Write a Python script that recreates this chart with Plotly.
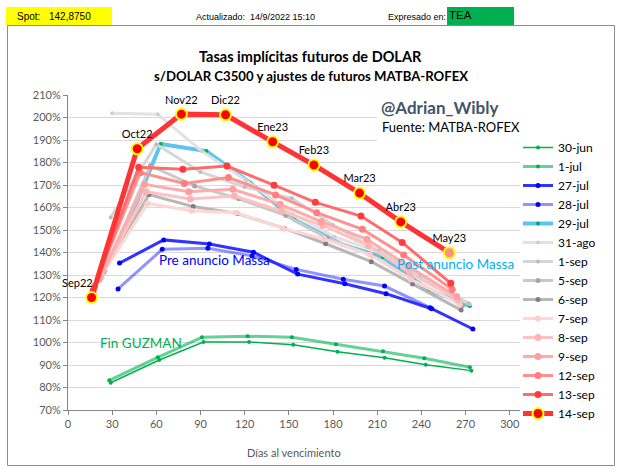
import plotly.graph_objects as go

# ---------------- data ----------------
series_names = ["30-jun", "1-jul", "27-jul", "28-jul", "29-jul", "31-ago", "1-sep", "5-sep",
                "6-sep", "7-sep", "8-sep", "9-sep", "12-sep", "13-sep", "14-sep"]

days_30jun = [29, 62, 92, 123, 153, 183, 215, 243, 274]
vals_30jun = [82.1, 92.2, 100.2, 100.2, 99.0, 95.9, 93.2, 90.1, 87.5]
days_1jul = [28, 61, 91, 122, 152, 182, 214, 242, 273]
vals_1jul = [83.2, 93.4, 102.3, 102.8, 102.3, 99.2, 96.1, 93.0, 89.0]
days_27jul = [35, 65, 96, 126, 156, 188, 216, 247, 275]
vals_27jul = [135.3, 145.6, 143.8, 140.1, 130.4, 126.1, 121.7, 115.0, 106.0]
days_28jul = [34, 64, 95, 125, 155, 187, 215, 246]
vals_28jul = [123.8, 141.4, 141.9, 138.5, 132.5, 128.1, 125.1, 115.5]
days_29jul = [33, 63, 94, 124, 154, 186, 214, 245, 273]
vals_29jul = [141.0, 188.2, 185.1, 170.8, 154.4, 143.6, 137.9, 123.3, 116.2]
days_31ago = [30, 61, 91, 121, 153, 181, 212, 240, 273]
vals_31ago = [201.9, 201.4, 185.0, 172.0, 157.0, 147.0, 140.0, 128.0, 117.0]
days_1sep = [29, 60, 90, 120, 152, 180, 211, 239, 272]
vals_1sep = [155.6, 188.1, 175.8, 169.1, 164.1, 152.2, 140.8, 129.6, 117.5]
days_5sep = [25, 56, 86, 116, 148, 176, 207, 235, 268]
vals_5sep = [132.0, 178.6, 169.6, 163.9, 156.4, 146.5, 138.5, 127.5, 116.5]
days_6sep = [24, 55, 85, 115, 147, 175, 206, 234, 267]
vals_6sep = [131.0, 165.8, 160.4, 157.3, 150.7, 143.9, 135.9, 126.0, 114.4]
days_7sep = [23, 54, 84, 114, 146, 174, 205, 233, 266]
vals_7sep = [130.0, 161.8, 158.6, 157.7, 150.7, 146.0, 139.0, 128.0, 117.0]
days_8sep = [22, 53, 83, 113, 145, 173, 204, 232, 265]
vals_8sep = [129.0, 167.0, 163.8, 165.1, 158.4, 152.0, 143.0, 131.0, 119.0]
days_9sep = [21, 52, 82, 112, 144, 172, 203, 231, 264]
vals_9sep = [128.0, 170.3, 167.0, 168.1, 161.4, 153.7, 145.9, 134.0, 120.4]
days_12sep = [18, 49, 79, 109, 141, 169, 200, 228, 261]
vals_12sep = [125.0, 175.5, 170.7, 173.3, 165.6, 157.7, 150.3, 138.9, 123.6]
days_13sep = [17, 48, 78, 108, 140, 168, 199, 227, 260]
vals_13sep = [123.0, 177.9, 177.0, 178.4, 169.9, 162.3, 156.2, 144.5, 126.3]
days_14sep = [16, 47, 77, 107, 139, 167, 198, 226, 259]
vals_14sep = [120.0, 186.1, 201.5, 201.2, 189.2, 178.9, 166.4, 153.6, 139.9]
labels_14sep = ["Sep22", "Oct22", "Nov22", "Dic22", "Ene23", "Feb23", "Mar23", "Abr23", "May23"]

spot_text = "142,8750"
updated_text = "14/9/2022 15:10"

# ---------------- styles ----------------
styles = {
    "30-jun": dict(lc="#00B050", lw=1.5, mc="#00B050", ms=4),
    "1-jul": dict(lc="rgba(0,176,80,0.6)", lw=3, mc="#00B050", ms=4),
    "27-jul": dict(lc="rgba(0,0,255,0.8)", lw=3, mc="#0000FF", ms=5),
    "28-jul": dict(lc="rgba(40,40,255,0.5)", lw=3, mc="#0000FF", ms=5),
    "29-jul": dict(lc="#5BC5F0", lw=4, mc="#00B050", ms=4),
    "31-ago": dict(lc="#E2E2E2", lw=3, mc="#CFCFCF", ms=4),
    "1-sep": dict(lc="#D6D6D6", lw=3, mc="#BDBDBD", ms=4),
    "5-sep": dict(lc="#C9C9C9", lw=3, mc="#A6A6A6", ms=5),
    "6-sep": dict(lc="#B7B7B7", lw=3, mc="#7F7F7F", ms=5),
    "7-sep": dict(lc="#FFD6D6", lw=3, mc="#FFCCCC", ms=6),
    "8-sep": dict(lc="#FFC2C2", lw=3, mc="#FFB3B3", ms=7),
    "9-sep": dict(lc="#FFABAB", lw=3, mc="#FF9E9E", ms=7),
    "12-sep": dict(lc="#FF9090", lw=3, mc="#FF7F7F", ms=7),
    "13-sep": dict(lc="#FF6C6C", lw=3, mc="#FF3B3B", ms=7),
}

data = {
    "30-jun": (days_30jun, vals_30jun), "1-jul": (days_1jul, vals_1jul),
    "27-jul": (days_27jul, vals_27jul), "28-jul": (days_28jul, vals_28jul),
    "29-jul": (days_29jul, vals_29jul), "31-ago": (days_31ago, vals_31ago),
    "1-sep": (days_1sep, vals_1sep), "5-sep": (days_5sep, vals_5sep),
    "6-sep": (days_6sep, vals_6sep), "7-sep": (days_7sep, vals_7sep),
    "8-sep": (days_8sep, vals_8sep), "9-sep": (days_9sep, vals_9sep),
    "12-sep": (days_12sep, vals_12sep), "13-sep": (days_13sep, vals_13sep),
}

FIG_W, FIG_H = 624, 472
L, R, T, B = 68, 104, 95, 62
PW = FIG_W - L - R
PH = FIG_H - T - B


def fx(x):
    return (x - L) / PW


def fy(y):
    return (FIG_H - B - y) / PH


FONT = "Lato, 'Noto Sans', sans-serif"
HFONT = "'Liberation Sans', Arial, sans-serif"

fig = go.Figure()
for name in series_names[:-1]:
    d, v = data[name]
    s = styles[name]
    fig.add_trace(go.Scatter(
        x=d, y=v, name=name, mode="lines+markers",
        line=dict(color=s["lc"], width=s["lw"]),
        marker=dict(color=s["mc"], size=s["ms"], line=dict(width=0)),
    ))

marker_colors = ["#FF0000"] * (len(vals_14sep) - 1) + ["#FF8F8F"]
# first label is drawn as an offset annotation (placed left of its point as in the original)
trace_text = [""] + labels_14sep[1:]
fig.add_trace(go.Scatter(
    x=days_14sep, y=vals_14sep, name="14-sep", mode="lines+markers+text",
    line=dict(color="#FF3333", width=5),
    marker=dict(color=marker_colors, size=11, line=dict(color="#FFFF00", width=2)),
    text=trace_text, textposition="top center", cliponaxis=False,
    textfont=dict(family=FONT, size=11, color="#000000"),
))

shapes = [
    dict(type="rect", xref="paper", yref="paper", x0=fx(7.5), x1=fx(614.5), y0=fy(465.5), y1=fy(25.5),
         line=dict(color="#8C8C8C", width=1), fillcolor="rgba(0,0,0,0)", layer="below"),
    dict(type="rect", xref="paper", yref="paper", x0=fx(6), x1=fx(112), y0=fy(25), y1=fy(7),
         line=dict(width=0), fillcolor="#FFFF00"),
    dict(type="rect", xref="paper", yref="paper", x0=fx(447), x1=fx(514), y0=fy(25), y1=fy(7),
         line=dict(width=0), fillcolor="#00B050"),
    dict(type="rect", xref="paper", yref="paper", x0=fx(377), x1=fx(521), y0=fy(141), y1=fy(97),
         line=dict(width=0), fillcolor="#FFFFFF", layer="above"),
]


def ann(text, x, y, size, color="#000000", family=FONT, xanchor="left", bold=False):
    return dict(text=("<b>%s</b>" % text) if bold else text, xref="paper", yref="paper",
                x=fx(x), y=fy(y), xanchor=xanchor, yanchor="middle", showarrow=False,
                font=dict(family=family, size=size, color=color))


annotations = [
    ann("Spot:", 15, 16, 10, family=HFONT),
    ann(spot_text, 47, 16, 10, family=HFONT),
    ann("Actualizado:", 194, 17, 9, family=HFONT),
    ann(updated_text, 248, 17, 9, family=HFONT),
    ann("Expresado en:", 386, 17, 9, family=HFONT),
    ann("TEA", 447, 15, 11.5, family=HFONT),
    ann("Tasas implícitas futuros de DOLAR", 310, 57, 14.5, bold=True, xanchor="center"),
    ann("s/DOLAR C3500 y ajustes de futuros MATBA-ROFEX", 311, 76, 13.2, bold=True, xanchor="center"),
    ann("@Adrian_Wibly", 379, 108, 17, color="#44546A", bold=True),
    ann("Fuente: MATBA-ROFEX", 380, 127, 13),
    ann("Pre anuncio Massa", 214, 260, 13.5, color="#0000FF", xanchor="center"),
    ann("Post anuncio Massa", 455, 264, 13.5, color="#00B0F0", xanchor="center"),
    ann("Fin GUZMAN", 141, 343, 13.5, color="#00B050", xanchor="center"),
    ann("Días al vencimiento", L + PW / 2, 452, 11, color="#595959", xanchor="center"),
    dict(text=labels_14sep[0], xref="x", yref="y", x=days_14sep[0], y=vals_14sep[0],
         xanchor="center", yanchor="bottom", xshift=-14, yshift=7, showarrow=False,
         font=dict(family=FONT, size=11, color="#000000")),
]

fig.update_layout(
    width=FIG_W, height=FIG_H,
    margin=dict(l=L, r=R, t=T, b=B, pad=0),
    paper_bgcolor="#FFFFFF", plot_bgcolor="#FFFFFF",
    showlegend=True,
    legend=dict(x=fx(518), y=fy(133), xanchor="left", yanchor="top",
                font=dict(family=FONT, size=12, color="#000000"),
                bgcolor="rgba(0,0,0,0)", tracegroupgap=0, itemwidth=30),
    shapes=shapes, annotations=annotations,
    xaxis=dict(range=[0, 307], tickvals=list(range(0, 301, 30)), showgrid=False,
               showline=True, linecolor="#868686", linewidth=1,
               ticks="outside", ticklen=4, tickcolor="#868686",
               tickfont=dict(family=FONT, size=11, color="#595959"), zeroline=False),
    yaxis=dict(range=[70, 210], dtick=10, tick0=70, ticksuffix="%",
               showgrid=True, gridcolor="#D9D9D9", gridwidth=1,
               showline=True, linecolor="#868686", linewidth=1,
               ticks="outside", ticklen=4, tickcolor="#868686",
               tickfont=dict(family=FONT, size=11, color="#595959"), zeroline=False),
)

fig.write_html("out.html")
